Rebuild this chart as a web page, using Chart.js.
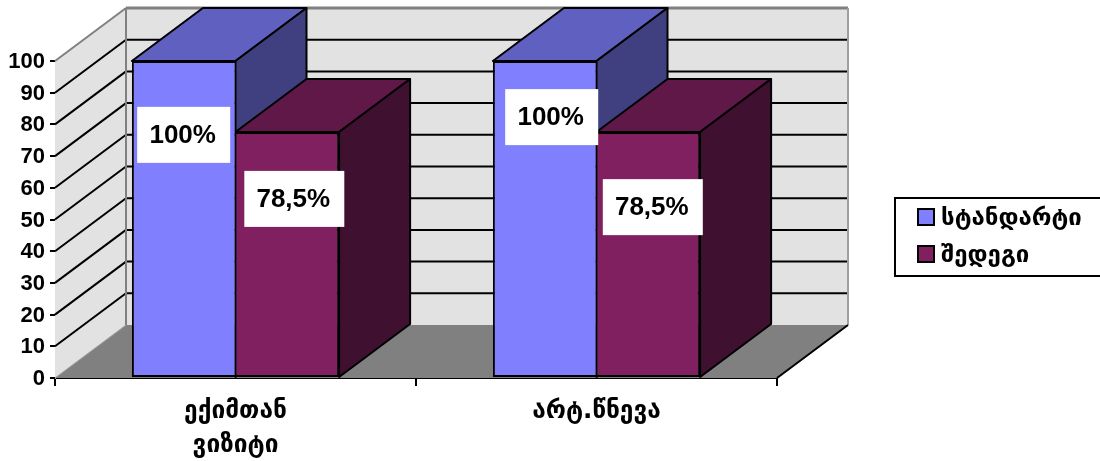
<!DOCTYPE html>
<html>
<head>
<meta charset="utf-8">
<title>3D bars</title>
<script src="https://cdn.jsdelivr.net/npm/chart.js@4"></script>
<style>
  html, body { margin: 0; padding: 0; background: #fff; overflow: hidden; }
  canvas { display: block; }
</style>
</head>
<body>
<canvas id="barChart" width="1100" height="461"></canvas>
<script>
// Chart data
const categories = [['ექიმთან', 'ვიზიტი'], 'არტ.წნევა'];
const seriesNames = ['სტანდარტი', 'შედეგი'];
const standardValues = [100, 100];
const resultValues = [77.6, 77.6];
const standardLabels = ['100%', '100%'];
const resultLabels = ['78,5%', '78,5%'];

// Colors: front, top, side of each series
const seriesColors = [
    ['#8080ff', '#6060c0', '#404080'],
    ['#802060', '#601848', '#401030']
];

// The 3D depth of the box, in pixels
const depthX = 71;
const depthY = -53;

const mainFont = '"Liberation Sans", Arial, sans-serif';
const georgianFont = '"DejaVu Sans", sans-serif';

// Where the white label boxes sit, relative to the middle of the bar and the axis value
const labelBoxes = [
    [{ dx: 0, val: 76.7, w: 93 }, { dx: 7, val: 56.5, w: 100 }],
    [{ dx: 7, val: 82.3, w: 93 }, { dx: 4.5, val: 53.9, w: 100 }]
];

function poly(ctx, points, fill, stroke, width) {
    ctx.beginPath();
    points.forEach((p, i) => i ? ctx.lineTo(p[0], p[1]) : ctx.moveTo(p[0], p[1]));
    ctx.closePath();
    if (fill) {
        ctx.fillStyle = fill;
        ctx.fill();
    }
    if (stroke) {
        ctx.strokeStyle = stroke;
        ctx.lineWidth = width;
        ctx.lineJoin = 'round';
        ctx.stroke();
    }
}

function line(ctx, x1, y1, x2, y2, color, width) {
    ctx.beginPath();
    ctx.moveTo(x1, y1);
    ctx.lineTo(x2, y2);
    ctx.strokeStyle = color;
    ctx.lineWidth = width;
    ctx.stroke();
}

// Walls, floor, gridlines and the 3D faces of the bars
const walls = {
    id: 'walls',
    beforeDatasetsDraw(chart) {
        const ctx = chart.ctx;
        const a = chart.chartArea;
        const backL = a.left + depthX;
        const backR = a.right + depthX;
        ctx.save();
        poly(ctx, [[a.left, a.top], [backL, a.top + depthY], [backL, a.bottom + depthY], [a.left, a.bottom]], '#e2e2e2');
        poly(ctx, [[backL, a.top + depthY], [backR, a.top + depthY], [backR, a.bottom + depthY], [backL, a.bottom + depthY]], '#e2e2e2');
        poly(ctx, [[a.left, a.bottom], [backL, a.bottom + depthY], [backR, a.bottom + depthY], [a.right, a.bottom]], '#808080');

        chart.scales.y.ticks.forEach(t => {
            if (t.value === 0 || t.value === 100) return;
            const y = chart.scales.y.getPixelForValue(t.value);
            line(ctx, a.left, y, backL, y + depthY, '#000', 2);
            line(ctx, backL, y + depthY, backR, y + depthY, '#000', 2);
        });

        // gray edges of the walls
        line(ctx, a.left, a.top, backL, a.top + depthY, '#808080', 2);
        line(ctx, backL, a.top + depthY, backR, a.top + depthY, '#808080', 3);
        line(ctx, backL, a.top + depthY, backL, a.bottom + depthY, '#808080', 2);
        line(ctx, backR, a.top + depthY, backR, a.bottom + depthY, '#a0a0a0', 2);
        line(ctx, a.left, a.bottom, backL, a.bottom + depthY, '#a0a0a0', 1);
        line(ctx, a.right, a.bottom, backR, a.bottom + depthY, '#000', 2);

        // top and side of each bar, first series first, the library paints the fronts after this
        seriesColors.forEach((colors, s) => {
            chart.getDatasetMeta(s).data.forEach(bar => {
                const l = bar.x - bar.width / 2;
                const r = bar.x + bar.width / 2;
                poly(ctx, [[l, bar.y], [l + depthX, bar.y + depthY], [r + depthX, bar.y + depthY], [r, bar.y]], colors[1], '#000', 2);
                poly(ctx, [[r, bar.y], [r + depthX, bar.y + depthY], [r + depthX, bar.base + depthY], [r, bar.base]], colors[2], '#000', 2);
            });
        });
        ctx.restore();
    },

    afterDatasetsDraw(chart) {
        const ctx = chart.ctx;
        const texts = [standardLabels, resultLabels];
        ctx.save();
        ctx.font = 'bold 26px ' + mainFont;
        ctx.textAlign = 'center';
        ctx.textBaseline = 'middle';
        texts.forEach((list, s) => {
            chart.getDatasetMeta(s).data.forEach((bar, i) => {
                const box = labelBoxes[i][s];
                const cx = bar.x + box.dx;
                const cy = chart.scales.y.getPixelForValue(box.val);
                ctx.fillStyle = '#fff';
                ctx.fillRect(cx - box.w / 2, cy - 28, box.w, 56);
                ctx.fillStyle = '#000';
                ctx.fillText(list[i], cx - 1, cy + 1);
            });
        });
        ctx.restore();
    },

    // Legend with a frame, the built in one has no frame
    afterDraw(chart) {
        const ctx = chart.ctx;
        ctx.save();
        ctx.fillStyle = '#fff';
        ctx.fillRect(895, 198, 205, 78);
        ctx.strokeStyle = '#000';
        ctx.lineWidth = 2;
        ctx.strokeRect(895, 198, 206, 78);
        ctx.font = 'bold 24px ' + georgianFont;
        ctx.textBaseline = 'middle';
        seriesNames.forEach((name, i) => {
            const y = 209 + i * 37;
            ctx.fillStyle = seriesColors[i][0];
            ctx.fillRect(918, y, 16, 16);
            ctx.strokeRect(918, y, 16, 16);
            ctx.fillStyle = '#000';
            ctx.fillText(name, 941, y + 10);
        });
        ctx.restore();
    }
};

const barCtx = document.getElementById('barChart').getContext('2d');
const barChart = new Chart(barCtx, {
    type: 'bar',
    data: {
        labels: categories,
        datasets: [{
            label: seriesNames[0],
            data: standardValues,
            backgroundColor: seriesColors[0][0],
            borderColor: '#000',
            borderSkipped: false,
            borderWidth: { top: 2, left: 2, bottom: 2, right: 1 } // shared edge stays 2px wide
        }, {
            label: seriesNames[1],
            data: resultValues,
            backgroundColor: seriesColors[1][0],
            borderColor: '#000',
            borderSkipped: false,
            borderWidth: { top: 2, left: 1, bottom: 2, right: 2 }
        }]
    },
    options: {
        responsive: false,
        animation: false,
        layout: { padding: { top: 61, right: 323, left: 0, bottom: 0 } },
        categoryPercentage: 0.574,
        barPercentage: 1,
        scales: {
            x: {
                afterFit: scale => { scale.height = 83; },
                grid: { drawOnChartArea: false, color: '#000', lineWidth: 2, tickLength: 8 },
                border: { color: '#000', width: 2 },
                ticks: {
                    color: '#000',
                    padding: 8,
                    maxRotation: 0,
                    font: { family: georgianFont, size: 24.5, weight: 'bold', lineHeight: 1.4 }
                }
            },
            y: {
                min: 0,
                max: 100,
                afterFit: scale => { scale.width = 55; },
                grid: { drawOnChartArea: false, color: '#000', lineWidth: 2, tickLength: 5 },
                border: { color: '#a0a0a0', width: 1 },
                ticks: {
                    stepSize: 10,
                    color: '#000',
                    padding: 5,
                    labelOffset: 1,
                    font: { family: mainFont, size: 22, weight: 'bold' }
                }
            }
        },
        plugins: {
            legend: { display: false },
            title: { display: false },
            tooltip: { enabled: false }
        }
    },
    plugins: [walls]
});
</script>
</body>
</html>
